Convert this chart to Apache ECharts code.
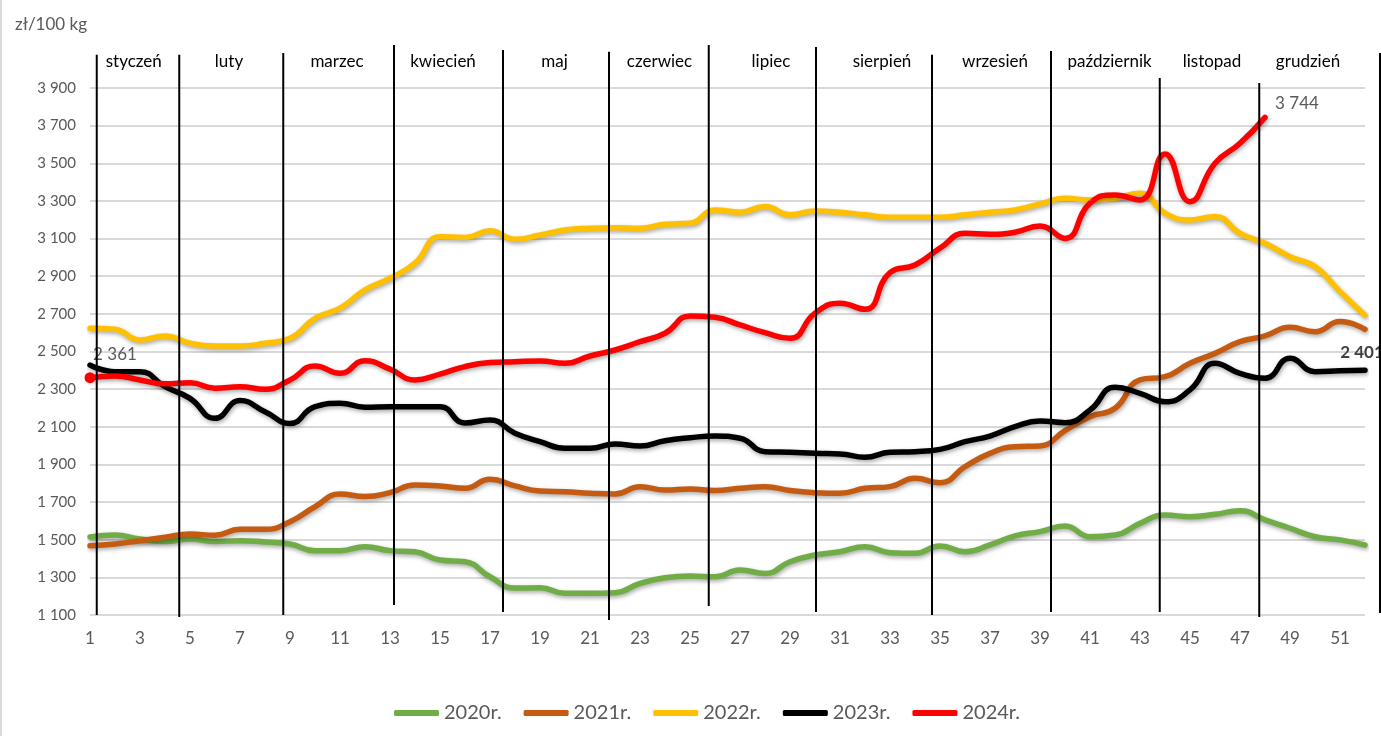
<!DOCTYPE html>
<html>
<head>
<meta charset="utf-8">
<title>Ceny</title>
<script src="https://cdn.jsdelivr.net/npm/echarts@6/dist/echarts.min.js"></script>
<style>
    html, body { margin: 0; padding: 0; background: #fff; }
    #chart { width: 1381px; height: 736px; }
</style>
</head>
<body>
<div id="chart"></div>
<script>
// tygodnie 1..52
const weeks = Array.from({ length: 52 }, (_, i) => String(i + 1));

const s2020 = [1514, 1525, 1504, 1490, 1504, 1490, 1495, 1488, 1477, 1442, 1442, 1463, 1442, 1436, 1392, 1383, 1303, 1243, 1245, 1215,
    1215, 1218, 1268, 1298, 1307, 1303, 1339, 1321, 1383, 1419, 1436, 1463, 1431, 1428, 1467, 1436, 1472, 1520, 1543, 1573,
    1516, 1525, 1587, 1631, 1622, 1635, 1654, 1605, 1561, 1516, 1499, 1472];
const s2021 = [1468, 1477, 1495, 1513, 1530, 1524, 1555, 1555, 1596, 1675, 1743, 1729, 1750, 1791, 1786, 1773, 1821, 1786, 1759, 1755,
    1747, 1743, 1782, 1764, 1770, 1761, 1773, 1782, 1761, 1750, 1747, 1773, 1782, 1826, 1803, 1888, 1959, 1994, 1998, 2080,
    2154, 2198, 2349, 2366, 2437, 2490, 2552, 2583, 2629, 2605, 2659, 2618];
const s2022 = [2624, 2618, 2561, 2583, 2544, 2529, 2529, 2544, 2570, 2676, 2730, 2827, 2889, 2969, 3110, 3106, 3141, 3096, 3119, 3146,
    3155, 3158, 3155, 3176, 3181, 3252, 3240, 3270, 3226, 3247, 3240, 3226, 3213, 3213, 3213, 3226, 3240, 3252, 3284, 3314,
    3305, 3314, 3341, 3235, 3199, 3217, 3128, 3075, 3004, 2951, 2818, 2693];
const s2023 = [2428, 2393, 2393, 2313, 2251, 2145, 2239, 2180, 2118, 2207, 2225, 2204, 2207, 2207, 2207, 2120, 2136, 2066, 2021, 1986,
    1986, 2009, 1998, 2026, 2042, 2051, 2039, 1968, 1965, 1959, 1956, 1938, 1965, 1968, 1980, 2021, 2051, 2101, 2131, 2122,
    2189, 2310, 2278, 2233, 2296, 2437, 2384, 2358, 2464, 2393, 2398, 2401];
const s2024 = [2361, 2370, 2349, 2328, 2334, 2305, 2313, 2299, 2349, 2423, 2384, 2451, 2406, 2349, 2380, 2420, 2441, 2446, 2450, 2437,
    2476, 2508, 2552, 2597, 2689, 2682, 2641, 2600, 2570, 2703, 2756, 2724, 2919, 2960, 3049, 3128, 3123, 3134, 3167, 3101,
    3288, 3332, 3305, 3550, 3296, 3500, 3606, 3744];

const seriesNames = ['2020r.', '2021r.', '2022r.', '2023r.', '2024r.'];
const seriesColors = ['#70AD47', '#C55A11', '#FFC000', '#000000', '#FF0000'];

// miesiące (pozycje w jednostkach tygodni)
const monthNames = ['styczeń', 'luty', 'marzec', 'kwiecień', 'maj', 'czerwiec', 'lipiec', 'sierpień', 'wrzesień', 'październik', 'listopad', 'grudzień'];
const monthLabelWeek = [2.75, 6.56, 10.88, 15.12, 19.58, 23.78, 28.24, 32.68, 37.2, 41.78, 45.88, 49.72];
const monthLineWeek = [1.27, 4.57, 8.73, 13.16, 17.52, 21.76, 25.75, 30.04, 34.68, 39.44, 43.79, 47.77, 52.6];
const monthLineTop = [4076, 4076, 4086, 4129, 4102, 4092, 4129, 4118, 4076, 4097, 3953, 3927, 4086];
const monthLineBottom = [1100, 1089, 1100, 1153, 1116, 1073, 1148, 1116, 1100, 1116, 1116, 1089, 1111];

const yMin = 1100, yMax = 3900, yStep = 200;

const FONT = 'Lato, "Noto Sans", sans-serif';
const GREY = '#595959';

const fmt = function (v) {
    return String(v).replace(/\B(?=(\d{3})+(?!\d))/g, ' ');
};

// etykiety wartości przy wybranych punktach
function withLabels(values, labels) {
    return values.map(function (v, i) {
        const cfg = labels[i];
        if (!cfg) return v;
        return {
            value: v,
            symbolSize: cfg.symbolSize || 1,
            label: {
                show: true,
                position: 'top',
                distance: 5,
                offset: cfg.offset,
                fontFamily: FONT,
                fontSize: 17,
                fontWeight: cfg.bold ? 'bold' : 'normal',
                color: cfg.bold ? '#404040' : GREY,
                formatter: function (p) { return fmt(p.value); }
            }
        };
    });
}

function lineSeries(idx, values) {
    return {
        name: seriesNames[idx],
        type: 'line',
        data: values,
        smooth: 0.5,
        symbol: 'circle',
        symbolSize: 1,
        showAllSymbol: true,
        itemStyle: { color: seriesColors[idx] },
        lineStyle: {
            color: seriesColors[idx],
            width: 5.5,
            cap: 'round',
            join: 'round',
            shadowColor: 'rgba(0,0,0,0.35)',
            shadowBlur: 4,
            shadowOffsetX: 1,
            shadowOffsetY: 2
        },
        emphasis: { disabled: true },
        z: 2
    };
}

const chart = echarts.init(document.getElementById('chart'));

const option = {
    animation: false,
    backgroundColor: '#fff',
    title: {
        text: 'zł/100 kg',
        left: 10,
        top: 11,
        textStyle: { fontFamily: FONT, fontSize: 17, fontWeight: 'normal', color: GREY }
    },
    legend: {
        data: seriesNames,
        left: 389,
        top: 698,
        icon: 'roundRect',
        itemWidth: 45,
        itemHeight: 6,
        itemGap: 22,
        textStyle: { fontFamily: FONT, fontSize: 20, color: GREY }
    },
    grid: { left: 90, right: 16, top: 88, bottom: 121 },
    xAxis: [
        {
            type: 'category',
            data: weeks,
            boundaryGap: false,
            axisLine: { show: false },
            axisTick: { show: false },
            axisLabel: { interval: 1, margin: 15, fontFamily: FONT, fontSize: 17, color: GREY }
        },
        {
            type: 'value',
            min: 1,
            max: 52,
            show: false
        }
    ],
    yAxis: {
        type: 'value',
        min: yMin,
        max: yMax,
        interval: yStep,
        axisLine: { show: false },
        axisTick: { show: false },
        axisLabel: { margin: 14, fontFamily: FONT, fontSize: 15, color: GREY, formatter: fmt },
        splitLine: { lineStyle: { color: '#d9d9d9', width: 2 } }
    },
    graphic: [
        { type: 'line', shape: { x1: 1, y1: 0, x2: 1, y2: 736 }, style: { stroke: '#d9d9d9', lineWidth: 2 } }
    ],
    series: [
        lineSeries(0, s2020),
        lineSeries(1, s2021),
        lineSeries(2, s2022),
        lineSeries(3, withLabels(s2023, { 51: { offset: [-3, -4], bold: true } })),
        lineSeries(4, withLabels(s2024, {
            0: { offset: [25, -4], symbolSize: 11 },
            47: { offset: [32, 0] }
        })),
        {
            // linie podziału miesięcy
            type: 'custom',
            xAxisIndex: 1,
            yAxisIndex: 0,
            silent: true,
            z: 5,
            data: monthLineWeek.map((w, i) => [w, monthLineBottom[i], monthLineTop[i]]),
            encode: { x: 0, y: [1, 2] },
            renderItem: function (params, api) {
                const p0 = api.coord([api.value(0), api.value(1)]);
                const p1 = api.coord([api.value(0), api.value(2)]);
                return {
                    type: 'line',
                    shape: { x1: p0[0], y1: p0[1], x2: p1[0], y2: p1[1] },
                    style: { stroke: '#000', lineWidth: 2 }
                };
            }
        },
        {
            // nazwy miesięcy
            type: 'custom',
            xAxisIndex: 1,
            yAxisIndex: 0,
            silent: true,
            z: 5,
            data: monthLabelWeek.map((w) => [w, 4040]),
            encode: { x: 0, y: 1 },
            renderItem: function (params, api) {
                const p = api.coord([api.value(0), api.value(1)]);
                return {
                    type: 'text',
                    x: p[0],
                    y: p[1],
                    style: {
                        text: monthNames[params.dataIndex],
                        align: 'center',
                        verticalAlign: 'middle',
                        fontFamily: FONT,
                        fontSize: 17,
                        fill: '#000'
                    }
                };
            }
        }
    ]
};

chart.setOption(option);

window.onresize = function () {
    chart.resize();
};
</script>
</body>
</html>
